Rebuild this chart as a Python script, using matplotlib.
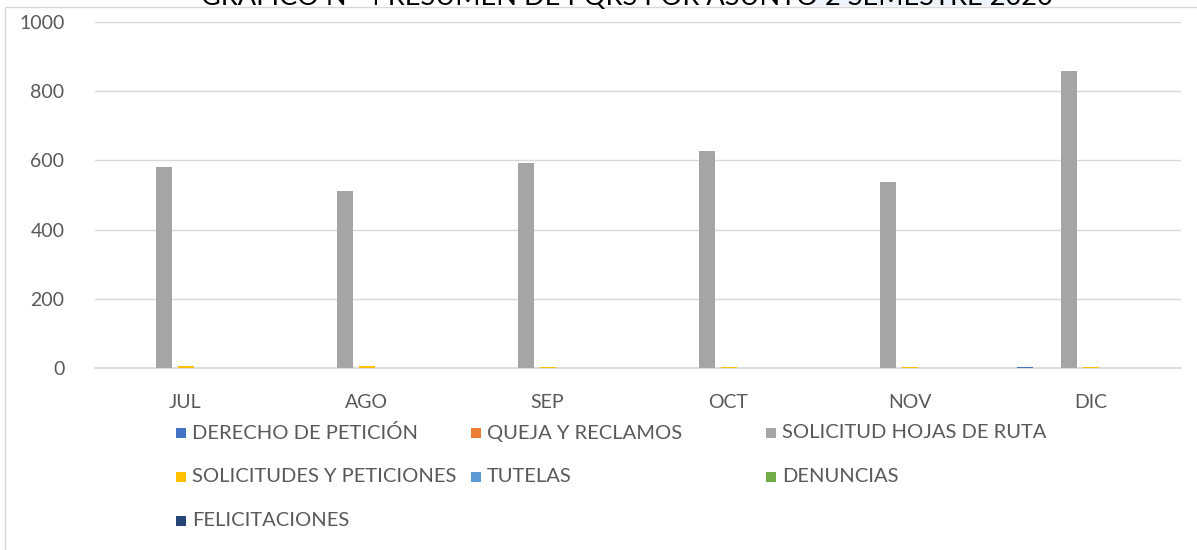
import numpy as np
import matplotlib.pyplot as plt
from matplotlib.patches import Rectangle

meses = ['JUL', 'AGO', 'SEP', 'OCT', 'NOV', 'DIC']
series = ['DERECHO DE PETICIÓN', 'QUEJA Y RECLAMOS', 'SOLICITUD HOJAS DE RUTA',
          'SOLICITUDES Y PETICIONES', 'TUTELAS', 'DENUNCIAS', 'FELICITACIONES']
derecho = [0, 0, 0, 1, 1, 2]
queja = [0, 0, 0, 0, 0, 0]
hojas_ruta = [581, 512, 592, 627, 538, 858]
solicitudes = [6, 7, 3, 3, 3, 4]
tutelas = [0, 0, 0, 0, 0, 0]
denuncias = [0, 0, 0, 0, 0, 0]
felicitaciones = [0, 0, 0, 0, 0, 0]
valores = [derecho, queja, hojas_ruta, solicitudes, tutelas, denuncias, felicitaciones]
colores = ['#4472C4', '#ED7D31', '#A5A5A5', '#FFC000', '#5B9BD5', '#70AD47', '#264478']

plt.rcParams['font.family'] = ['Lato', 'DejaVu Sans']
W, H = 1197, 550
fig = plt.figure(figsize=(W / 100, H / 100), dpi=100)
ax = fig.add_axes([95 / W, 1 - 368 / H, (1181 - 95) / W, (368 - 22) / H])

x = np.arange(len(meses))
paso = 22 / 181
ancho = 16 / 181
for i, (vals, col) in enumerate(zip(valores, colores)):
    ax.bar(x + (i - 3) * paso, vals, width=ancho, color=col, zorder=3)

ax.set_xlim(-0.5, 5.5)
ax.set_ylim(0, 1000)
ax.set_yticks(range(0, 1001, 200))
ax.set_xticks(x)
ax.set_xticklabels(meses)
ax.grid(axis='y', color='#D9D9D9', linewidth=1, zorder=0)
for s in ['top', 'right', 'left']:
    ax.spines[s].set_visible(False)
ax.spines['bottom'].set_color('#D9D9D9')
ax.spines['bottom'].set_linewidth(1.2)
ax.tick_params(axis='both', length=0, labelsize=14, colors='#595959')
ax.tick_params(axis='x', pad=19)
ax.tick_params(axis='y', pad=22)

# marco del grafico
fig.patches.append(Rectangle((5 / W, -0.1), 1.2, 1 - 7 / H + 0.1, transform=fig.transFigure,
                             fill=False, edgecolor='#D9D9D9', linewidth=1))
fig.patches.append(Rectangle((812 / W, 1 - 6 / H), 208 / W, 6 / H, transform=fig.transFigure,
                             facecolor='#EEF4FB', edgecolor='none'))

# titulo cortado arriba (igual que en la imagen original)
fig.text(627 / W, 1 - 5 / H, 'GRAFICO N° 4 RESUMEN DE PQRS POR ASUNTO 2 SEMESTRE 2020',
         ha='center', va='baseline', fontsize=19.5, color='#000000')

# leyenda
cols_x = [176, 471, 766]
filas_y = [433, 477, 521]
for i, (nom, col) in enumerate(zip(series, colores)):
    cx = cols_x[i % 3]
    cy = filas_y[i // 3]
    fig.patches.append(Rectangle((cx / W, 1 - (cy + 5) / H), 10 / W, 10 / H,
                                 transform=fig.transFigure, facecolor=col, edgecolor='none'))
    fig.text((cx + 16) / W, 1 - cy / H, nom, ha='left', va='center',
             fontsize=14.5, color='#595959')

fig.savefig('out.png', dpi=100)
